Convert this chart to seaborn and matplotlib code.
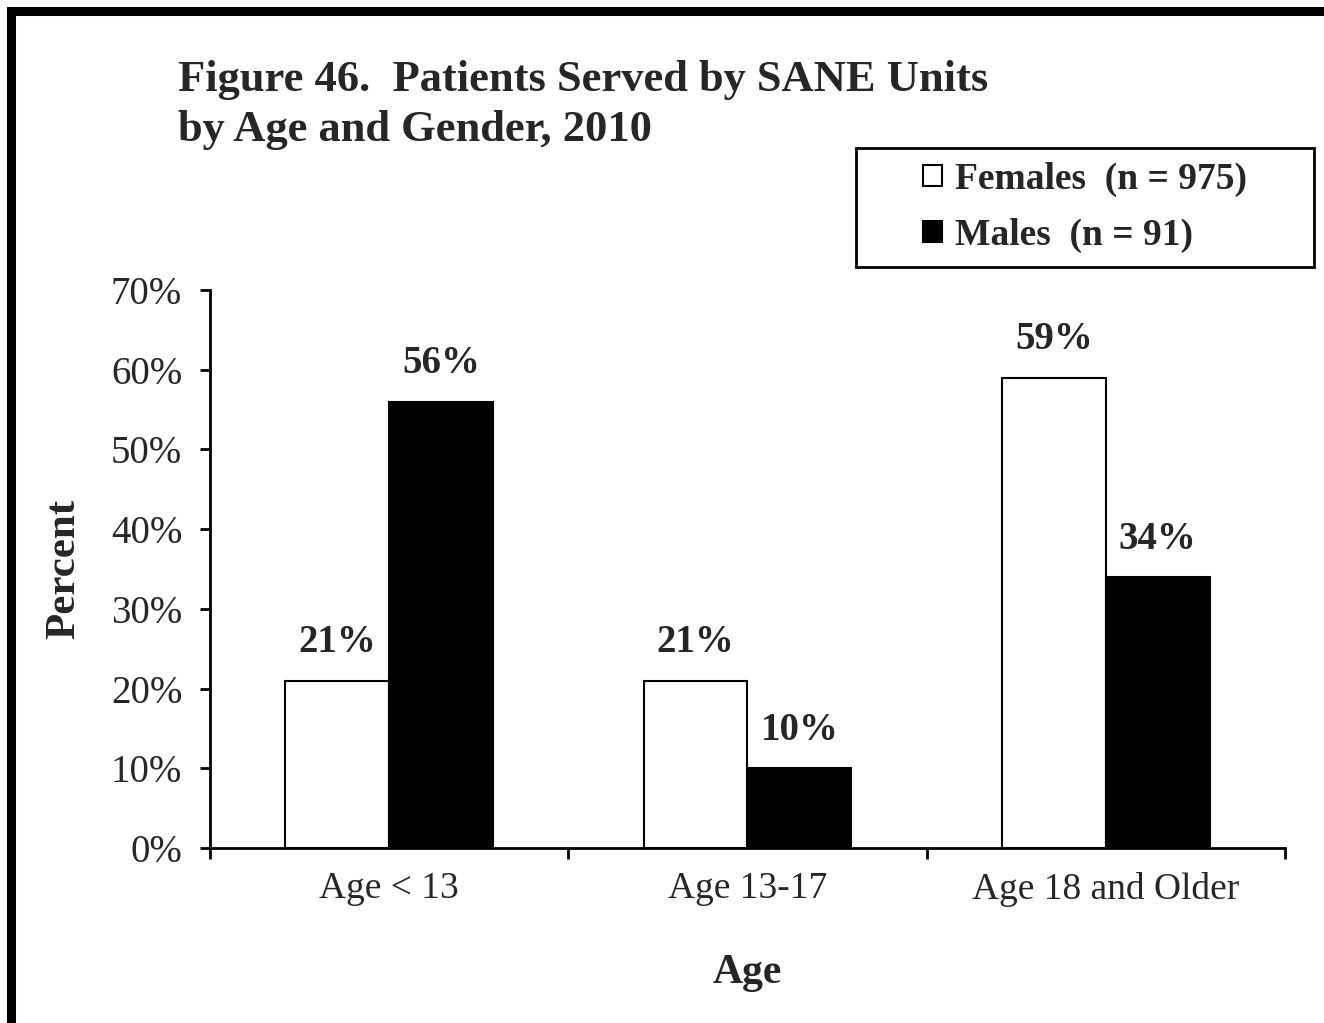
import matplotlib
matplotlib.use("Agg")
import matplotlib.pyplot as plt
import seaborn as sns
import pandas as pd
from matplotlib.patches import Rectangle, Patch
from matplotlib.ticker import PercentFormatter, FixedLocator

categories = ["Age < 13", "Age 13-17", "Age 18 and Older"]
females = [21, 21, 59]
males = [56, 10, 34]
series_names = ["Females  (n = 975)", "Males  (n = 91)"]
value_labels_f = ["21%", "21%", "59%"]
value_labels_m = ["56%", "10%", "34%"]

df = pd.DataFrame({
    "Age": categories * 2,
    "Percent": [v / 100 for v in females] + [v / 100 for v in males],
    "Gender": [series_names[0]] * 3 + [series_names[1]] * 3,
})

sns.set_style("white")
plt.rcParams["font.family"] = ["Liberation Serif", "DejaVu Serif"]

W, H = 1324, 1023
fig = plt.figure(figsize=(W / 100, H / 100), dpi=100)
ax = fig.add_axes([210 / W, (H - 848) / H, (1285 - 210) / W, (848 - 290) / H])

sns.barplot(data=df, x="Age", y="Percent", hue="Gender", order=categories,
            hue_order=series_names, palette=["white", "black"], width=0.58,
            edgecolor="black", linewidth=1.5, errorbar=None, legend=False, ax=ax)

ax.set_xlim(-0.5, 2.5)
ax.set_ylim(0, 0.70)
ax.yaxis.set_major_locator(FixedLocator([i / 10 for i in range(8)]))
ax.yaxis.set_major_formatter(PercentFormatter(1.0, decimals=0))

for s in ["top", "right"]:
    ax.spines[s].set_visible(False)
for s in ["left", "bottom"]:
    ax.spines[s].set_linewidth(2)
    ax.spines[s].set_color("black")

ax.tick_params(axis="y", which="major", direction="out", length=7, width=2,
               color="black", labelsize=28, pad=13, left=True)
ax.tick_params(axis="x", which="major", length=0, labelsize=27, pad=17)
ax.xaxis.set_minor_locator(FixedLocator([-0.5, 0.5, 1.5, 2.5]))
ax.tick_params(axis="x", which="minor", direction="out", length=8, width=2,
               color="black", bottom=True)

ax.set_xlabel("Age", fontsize=30, fontweight="bold", labelpad=34)
ax.set_ylabel("Percent", fontsize=31, fontweight="bold", labelpad=20)

for container, labels in zip(ax.containers, [value_labels_f, value_labels_m]):
    ax.bar_label(container, labels=labels, padding=14, fontsize=28,
                 fontweight="bold")

fig.text(178 / W, 1 - 105 / H, "Figure 46.  Patients Served by SANE Units\nby Age and Gender, 2010",
         fontsize=32, fontweight="bold", va="center", ha="left", linespacing=1.3)

handles = [Patch(facecolor="white", edgecolor="black", linewidth=1.5),
           Patch(facecolor="black", edgecolor="black", linewidth=1.5)]
leg = fig.legend(handles, series_names, loc="center",
                 bbox_to_anchor=((857 + 1313) / 2 / W, 1 - (148 + 267) / 2 / H),
                 frameon=False, prop={"weight": "bold", "size": 27},
                 handlelength=0.5, handleheight=0.5, handletextpad=0.35,
                 borderpad=0, labelspacing=0.55, borderaxespad=0)

fig.patches.append(Rectangle((856 / W, 1 - 267 / H), (1314 - 856) / W, (267 - 148) / H,
                             transform=fig.transFigure, fill=False,
                             edgecolor="black", linewidth=2))

fig.patches.append(Rectangle((11 / W, -0.05), 1.2, 1 - 11 / H + 0.05,
                             transform=fig.transFigure, fill=False,
                             edgecolor="black", linewidth=6.5))

fig.savefig("out.png", dpi=100)
